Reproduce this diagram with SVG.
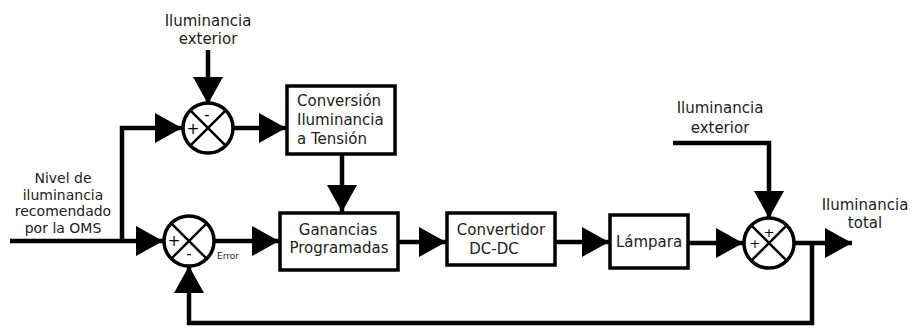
<svg xmlns="http://www.w3.org/2000/svg" width="914" height="331" viewBox="0 0 914 331">
<defs>
<marker id="ah" viewBox="0 0 27 30" refX="27" refY="15" markerWidth="27" markerHeight="30" markerUnits="userSpaceOnUse" orient="auto">
<path d="M0,0 L27,15 L0,30 z" fill="#000"/>
</marker>
<style>
.t{font-family:"DejaVu Sans","Verdana",sans-serif;font-size:15px;fill:#222}
.tm{text-anchor:middle}
.s{font-family:"DejaVu Sans",sans-serif;font-size:15px;fill:#000;text-anchor:middle}
.box{fill:#fff;stroke:#000;stroke-width:3.5}
.sum{fill:#fff;stroke:#000;stroke-width:3.5}
.x{stroke:#000;stroke-width:2.5}
.c{fill:none;stroke:#000;stroke-width:4.5}
.a{marker-end:url(#ah)}
</style>
</defs>
<rect width="914" height="331" fill="#fff"/>
<g id="connectors">
<path class="c a" d="M10,241 H163"/>
<path class="c" d="M122,243 V128 H150"/>
<path class="c a" d="M150,128 H182"/>
<path class="c a" d="M208,50 V104"/>
<path class="c a" d="M233,128 H286"/>
<path class="c a" d="M342,154 V212"/>
<path class="c a" d="M214,241 H279"/>
<path class="c a" d="M398,242 H446"/>
<path class="c a" d="M555,242 H609"/>
<path class="c a" d="M688,243 H743"/>
<path class="c" d="M673,143 H769 V190"/>
<path class="c a" d="M769,190 V218"/>
<path class="c a" d="M794,243 H852"/>
<path class="c" d="M812,241 V323 H189 V290"/>
<path class="c a" d="M189,290 V266"/>
</g>
<g id="label_ext1">
<text class="t tm" x="208" y="26">Iluminancia</text>
<text class="t tm" x="208" y="44">exterior</text>
</g>
<g id="label_nivel" style="font-size:14px">
<text class="t tm" x="63" y="183" style="font-size:14px">Nivel de</text>
<text class="t tm" x="63" y="199.5" style="font-size:14px">iluminancia</text>
<text class="t tm" x="63" y="216" style="font-size:14px">recomendado</text>
<text class="t tm" x="63" y="232.5" style="font-size:14px">por la OMS</text>
</g>
<g id="sum1">
<circle class="sum" cx="208" cy="128" r="25"/>
<path class="x" d="M190.3,110.3 L225.7,145.7 M225.7,110.3 L190.3,145.7"/>
<text class="s" x="207" y="120">-</text>
<text class="s" x="193" y="134">+</text>
</g>
<g id="conversion">
<rect class="box" x="287" y="86" width="108" height="68"/>
<text class="t" x="297" y="106">Conversión</text>
<text class="t" x="297" y="125">Iluminancia</text>
<text class="t" x="297" y="144">a Tensión</text>
</g>
<g id="sum2">
<circle class="sum" cx="189" cy="241" r="25"/>
<path class="x" d="M171.3,223.3 L206.7,258.7 M206.7,223.3 L171.3,258.7"/>
<text class="s" x="174" y="246">+</text>
<text class="s" x="189" y="259">-</text>
</g>
<g id="error">
<text class="t" x="217" y="259" style="font-size:9px">Error</text>
</g>
<g id="ganancias">
<rect class="box" x="280" y="213" width="118" height="57"/>
<text class="t tm" x="338" y="235">Ganancias</text>
<text class="t tm" x="339" y="253">Programadas</text>
</g>
<g id="convertidor">
<rect class="box" x="447" y="213" width="108" height="52"/>
<text class="t tm" x="501" y="235">Convertidor</text>
<text class="t tm" x="494" y="254">DC-DC</text>
</g>
<g id="lampara">
<rect class="box" x="610" y="215" width="78" height="53"/>
<text class="t tm" x="649" y="247">Lámpara</text>
</g>
<g id="label_ext2">
<text class="t tm" x="720" y="113">Iluminancia</text>
<text class="t tm" x="720" y="133">exterior</text>
</g>
<g id="sum3">
<circle class="sum" cx="769" cy="243" r="25"/>
<path class="x" d="M751.3,225.3 L786.7,260.7 M786.7,225.3 L751.3,260.7"/>
<text class="s" x="769" y="237" style="font-size:13px">+</text>
<text class="s" x="755" y="248" style="font-size:13px">+</text>
</g>
<g id="label_total">
<text class="t tm" x="865" y="210">Iluminancia</text>
<text class="t tm" x="865" y="228">total</text>
</g>
</svg>
